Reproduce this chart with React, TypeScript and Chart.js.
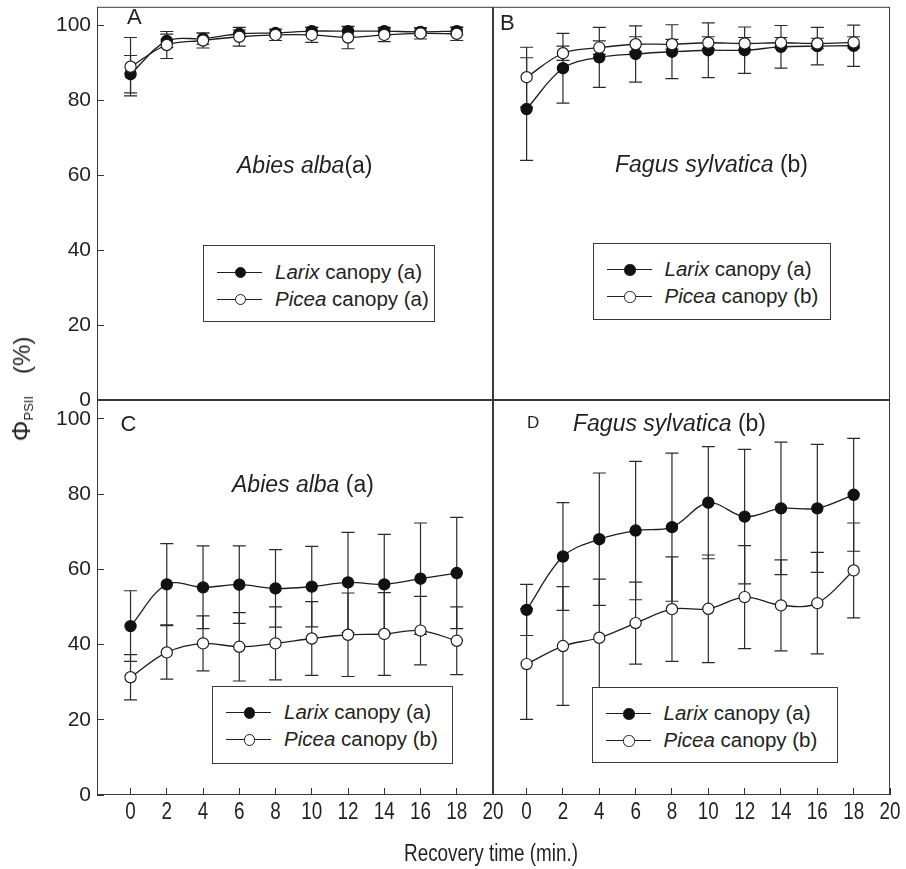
import React, { useEffect, useRef } from 'react';
import { Chart, registerables } from 'chart.js';

Chart.register(...registerables);

// ---------- data ----------
const times = [0, 2, 4, 6, 8, 10, 12, 14, 16, 18];
const yTicks = [0, 20, 40, 60, 80, 100];
const xTicks = [0, 2, 4, 6, 8, 10, 12, 14, 16, 18, 20];

// Panel A – Abies alba (top)
const larixA = [87.0, 95.9, 96.5, 97.8, 98.0, 98.5, 98.5, 98.5, 98.3, 98.5];
const larixAErr = [5.0, 1.8, 1.5, 1.0, 1.0, 1.0, 1.2, 1.0, 1.0, 1.0];
const piceaA = [89.0, 94.8, 96.0, 97.0, 97.5, 97.5, 96.8, 97.5, 97.9, 97.8];
const piceaAErr = [7.8, 3.6, 2.0, 2.5, 1.5, 2.0, 3.0, 1.8, 1.5, 1.8];

// Panel B – Fagus sylvatica (top)
const larixB = [77.7, 88.6, 91.5, 92.4, 93.0, 93.4, 93.4, 94.3, 94.5, 94.6];
const larixBErr = [13.7, 9.3, 8.0, 7.5, 7.2, 7.3, 6.2, 5.7, 5.0, 5.5];
const piceaB = [86.2, 92.6, 94.1, 95.0, 95.0, 95.4, 95.2, 95.4, 95.2, 95.5];
const piceaBErr = [8.0, 1.9, 1.8, 2.0, 1.3, 1.6, 1.6, 1.4, 1.4, 1.5];

// Panel C – Abies alba (bottom)
const larixC = [44.9, 56.0, 55.2, 55.9, 54.9, 55.4, 56.5, 56.0, 57.5, 59.0];
const larixCErr = [9.4, 10.8, 11.0, 10.3, 10.3, 10.7, 13.3, 13.3, 14.8, 14.8];
const piceaC = [31.3, 37.9, 40.3, 39.4, 40.3, 41.6, 42.6, 42.8, 43.7, 41.0];
const piceaCErr = [6.0, 7.1, 7.3, 9.1, 9.7, 9.8, 11.1, 11.0, 9.1, 9.0];

// Panel D – Fagus sylvatica (bottom)
const larixD = [49.2, 63.4, 68.0, 70.3, 71.2, 77.7, 74.0, 76.2, 76.2, 79.8];
const larixDErr = [6.8, 14.3, 17.6, 18.4, 19.7, 14.9, 17.9, 17.6, 17.0, 15.0];
const piceaD = [34.8, 39.6, 41.8, 45.7, 49.4, 49.5, 52.6, 50.4, 51.0, 59.7];
const piceaDErr = [14.7, 15.8, 15.6, 10.9, 13.9, 14.3, 13.7, 12.1, 13.5, 12.6];

// ---------- layout ----------
const W = 906;
const H = 869;
const INK = '#231f20';
const SANS = '"Liberation Sans", Arial, Helvetica, sans-serif';
const NARROW_SCALE = 0.82;

type Area = { left: number; top: number; right: number; bottom: number };
type Panel = {
  area: Area;
  larix: number[];
  larixErr: number[];
  picea: number[];
  piceaErr: number[];
  showX: boolean;
  showY: boolean;
};

const panels: Panel[] = [
  { area: { left: 97, top: 4, right: 493, bottom: 400 }, larix: larixA, larixErr: larixAErr, picea: piceaA, piceaErr: piceaAErr, showX: false, showY: true },
  { area: { left: 493, top: 4, right: 890, bottom: 400 }, larix: larixB, larixErr: larixBErr, picea: piceaB, piceaErr: piceaBErr, showX: false, showY: false },
  { area: { left: 97, top: 400, right: 493, bottom: 795 }, larix: larixC, larixErr: larixCErr, picea: piceaC, piceaErr: piceaCErr, showX: true, showY: true },
  { area: { left: 493, top: 400, right: 890, bottom: 795 }, larix: larixD, larixErr: larixDErr, picea: piceaD, piceaErr: piceaDErr, showX: true, showY: false },
];

const errorBarPlugin = {
  id: 'errorBars',
  beforeDatasetsDraw(chart: any) {
    const ctx = chart.ctx;
    const xs = chart.scales.x;
    const ys = chart.scales.y;
    chart.data.datasets.forEach((ds: any) => {
      const errs: number[] | undefined = ds.errors;
      if (!errs) return;
      ctx.save();
      ctx.strokeStyle = '#2a2a2a';
      ctx.lineWidth = 1.2;
      ds.data.forEach((p: any, i: number) => {
        const px = xs.getPixelForValue(p.x);
        const t = ys.getPixelForValue(p.y + errs[i]);
        const b = ys.getPixelForValue(p.y - errs[i]);
        ctx.beginPath();
        ctx.moveTo(px, t);
        ctx.lineTo(px, b);
        ctx.moveTo(px - 6.5, t);
        ctx.lineTo(px + 6.5, t);
        ctx.moveTo(px - 6.5, b);
        ctx.lineTo(px + 6.5, b);
        ctx.stroke();
      });
      ctx.restore();
    });
  },
};

const framePlugin = {
  id: 'frame',
  afterDraw(chart: any) {
    const { left, top, right, bottom } = chart.chartArea;
    const ctx = chart.ctx;
    ctx.save();
    ctx.strokeStyle = '#3a3a3a';
    ctx.lineWidth = 1;
    ctx.strokeRect(left + 0.5, top + 0.5, right - left - 1, bottom - top - 1);
    ctx.restore();
  },
};

// condensed x tick labels, placed from the x scale's own ticks
const narrowXTicksPlugin = {
  id: 'narrowXTicks',
  afterDraw(chart: any) {
    const xs = chart.scales.x;
    if (!xs || !xs.options.display) return;
    const ctx = chart.ctx;
    const baseline = chart.chartArea.bottom + 24;
    ctx.save();
    ctx.fillStyle = INK;
    ctx.font = `23px ${SANS}`;
    ctx.textAlign = 'center';
    ctx.textBaseline = 'alphabetic';
    xs.ticks.forEach((t: any) => {
      const px = xs.getPixelForValue(t.value);
      ctx.save();
      ctx.translate(px, baseline);
      ctx.scale(NARROW_SCALE, 1);
      ctx.fillText(String(t.value), 0, 0);
      ctx.restore();
    });
    ctx.restore();
  },
};

function PanelChart({ panel }: { panel: Panel }) {
  const ref = useRef<HTMLCanvasElement | null>(null);
  useEffect(() => {
    if (!ref.current) return;
    const a = panel.area;
    const yWidth = panel.showY ? a.left : 0;
    const chart = new Chart(ref.current, {
      type: 'line',
      data: {
        datasets: [
          {
            label: 'Picea canopy',
            data: times.map((t, i) => ({ x: t, y: panel.picea[i] })),
            errors: panel.piceaErr,
            borderColor: '#1e1e1e',
            borderWidth: 1.3,
            pointRadius: 5.6,
            pointBackgroundColor: '#ffffff',
            pointBorderColor: '#1e1e1e',
            pointBorderWidth: 1.2,
            tension: 0.35,
            fill: false,
          } as any,
          {
            label: 'Larix canopy',
            data: times.map((t, i) => ({ x: t, y: panel.larix[i] })),
            errors: panel.larixErr,
            borderColor: '#1e1e1e',
            borderWidth: 1.3,
            pointRadius: 5.6,
            pointBackgroundColor: '#111111',
            pointBorderColor: '#111111',
            pointBorderWidth: 1.2,
            tension: 0.35,
            fill: false,
          } as any,
        ],
      },
      options: {
        responsive: false,
        animation: false,
        devicePixelRatio: 1,
        layout: {
          padding: {
            left: panel.showY ? 0 : a.left,
            top: a.top,
            right: W - a.right,
            bottom: H - a.bottom,
          },
        },
        plugins: { legend: { display: false }, tooltip: { enabled: false } },
        scales: {
          x: {
            type: 'linear',
            min: -1.85,
            max: 20,
            display: panel.showX,
            afterFit: (axis: any) => {
              axis.height = 0;
              axis.paddingLeft = 0;
              axis.paddingRight = 0;
              axis.paddingTop = 0;
              axis.paddingBottom = 0;
            },
            afterBuildTicks: (axis: any) => {
              axis.ticks = xTicks.map((v) => ({ value: v }));
            },
            ticks: { display: false, autoSkip: false },
            grid: { display: true, drawOnChartArea: false, drawTicks: true, tickLength: -7, color: '#333', lineWidth: 1 },
            border: { display: false },
          },
          y: {
            type: 'linear',
            min: 0,
            max: 105,
            display: panel.showY,
            afterFit: (axis: any) => {
              axis.width = yWidth;
              axis.paddingLeft = 0;
              axis.paddingRight = 0;
              axis.paddingTop = 0;
              axis.paddingBottom = 0;
            },
            afterBuildTicks: (axis: any) => {
              axis.ticks = yTicks.map((v) => ({ value: v }));
            },
            ticks: {
              color: INK,
              padding: 13,
              autoSkip: false,
              font: { family: SANS, size: 21 },
            },
            grid: { display: true, drawOnChartArea: false, drawTicks: true, tickLength: -7, color: '#333', lineWidth: 1 },
            border: { display: false },
          },
        },
      } as any,
      plugins: [errorBarPlugin, framePlugin, narrowXTicksPlugin],
    });
    return () => chart.destroy();
  }, [panel]);
  return (
    <canvas
      ref={ref}
      width={W}
      height={H}
      style={{ position: 'absolute', left: 0, top: 0, width: W, height: H }}
    />
  );
}

function Txt({ x, baseline, fs, children, family = SANS, style = {} }: any) {
  return (
    <div
      style={{
        position: 'absolute',
        left: x,
        top: baseline - 0.8465 * fs,
        fontSize: fs,
        lineHeight: `${fs}px`,
        fontFamily: family,
        whiteSpace: 'nowrap',
        color: INK,
        ...style,
      }}
    >
      {children}
    </div>
  );
}

function Legend({ left, top, width, height, second }: any) {
  const fs = 20.5;
  const rows = [
    { filled: true, it: 'Larix', rest: ' canopy (a)', y: 26.5 },
    { filled: false, it: 'Picea', rest: ` canopy (${second})`, y: 53.5 },
  ];
  return (
    <div
      style={{
        position: 'absolute',
        left,
        top,
        width,
        height,
        boxSizing: 'border-box',
        border: '1px solid #3a3a3a',
        background: '#ffffff',
      }}
    >
      {rows.map((r, i) => (
        <React.Fragment key={i}>
          <div style={{ position: 'absolute', left: 13, top: r.y - 0.65, width: 45, height: 0, borderTop: '1.3px solid #1e1e1e' }} />
          <div
            style={{
              position: 'absolute',
              left: 36.5 - 5.6,
              top: r.y - 5.6,
              width: 11.2,
              height: 11.2,
              boxSizing: 'border-box',
              borderRadius: '50%',
              border: '1.2px solid #1e1e1e',
              background: r.filled ? '#111' : '#fff',
            }}
          />
          <Txt x={71} baseline={r.y + 6.8} fs={fs}>
            <i>{r.it}</i>
            {r.rest}
          </Txt>
        </React.Fragment>
      ))}
    </div>
  );
}

export default function App() {
  return (
    <div style={{ position: 'absolute', left: 0, top: 0, width: W, height: H, background: '#fff', overflow: 'hidden' }}>
      {panels.map((p, i) => (
        <PanelChart key={i} panel={p} />
      ))}

      {/* panel letters */}
      <Txt x={127} baseline={25} fs={22}>A</Txt>
      <Txt x={500} baseline={30.5} fs={22}>B</Txt>
      <Txt x={120.5} baseline={431.5} fs={22}>C</Txt>
      <Txt x={527} baseline={428.3} fs={17}>D</Txt>

      {/* species labels */}
      <Txt x={237} baseline={173} fs={23}>
        <i>Abies alba</i>(a)
      </Txt>
      <Txt x={615} baseline={172.3} fs={23}>
        <i>Fagus sylvatica</i> (b)
      </Txt>
      <Txt x={232} baseline={492.3} fs={23}>
        <i>Abies alba</i> (a)
      </Txt>
      <Txt x={573} baseline={431.7} fs={23}>
        <i>Fagus sylvatica</i> (b)
      </Txt>

      {/* legends */}
      <Legend left={203} top={245} width={232} height={77} second="a" />
      <Legend left={592.5} top={242.5} width={238} height={77} second="b" />
      <Legend left={212} top={685.5} width={241} height={78} second="b" />
      <Legend left={591.5} top={686.5} width={246} height={76} second="b" />

      {/* axis titles */}
      <div
        style={{
          position: 'absolute',
          left: 491,
          top: 861 - 0.8465 * 23,
          transform: `translateX(-50%) scaleX(${NARROW_SCALE})`,
          fontSize: 23,
          lineHeight: '23px',
          fontFamily: SANS,
          whiteSpace: 'nowrap',
          color: INK,
        }}
      >
        Recovery time (min.)
      </div>
      <div
        style={{
          position: 'absolute',
          left: 25,
          top: 389,
          transform: 'translate(-50%, -50%) rotate(-90deg)',
          fontSize: 24,
          lineHeight: '28px',
          fontFamily: SANS,
          whiteSpace: 'nowrap',
          color: INK,
        }}
      >
        <span style={{ fontSize: 26 }}>Φ</span>
        <span style={{ fontSize: 13, verticalAlign: '-3px' }}>PSII</span>
        <span style={{ marginLeft: 22 }}>(%)</span>
      </div>
    </div>
  );
}
